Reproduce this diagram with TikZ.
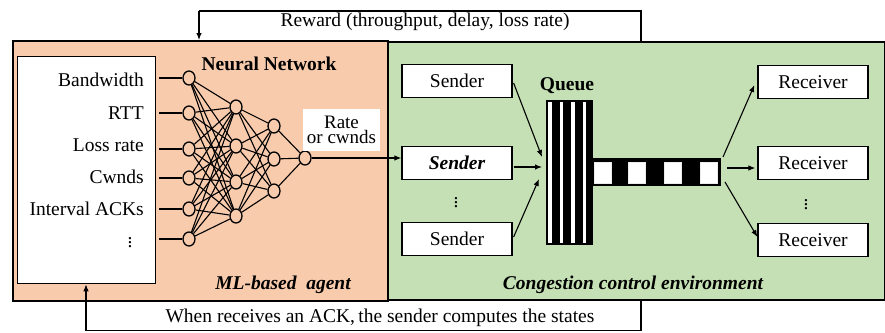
\documentclass[tikz,border=0pt]{standalone}
\usepackage{fontspec}
\setmainfont{Liberation Serif}
\usetikzlibrary{arrows.meta,calc,shapes.geometric}
\definecolor{agentbg}{RGB}{248,203,173}
\definecolor{envbg}{RGB}{197,224,180}
\begin{document}
\begin{tikzpicture}[x=1pt,y=-1pt,
  font=\fontsize{19.5}{22}\selectfont,
  region/.style={draw, line width=1.6pt, inner sep=0, anchor=north west},
  neuron/.style={ellipse, draw, line width=1.3pt, fill=agentbg, minimum width=12pt, minimum height=14pt, inner sep=0},
  conn/.style={line width=1.1pt},
  inline/.style={line width=1.7pt},
  arr/.style={line width=1.1pt, -{Latex[length=7pt,width=5.5pt]}},
  hostbox/.style={draw, fill=white, line width=1.2pt, minimum width=110pt, minimum height=33pt, inner sep=0},
  lbl/.style={inner sep=0, anchor=east},
  bigtitle/.style={font=\fontsize{19.5}{22}\selectfont\bfseries},
  italtitle/.style={font=\fontsize{19.5}{22}\selectfont\bfseries\itshape}
]
\useasboundingbox (0,0) rectangle (885,332);

% regions
\node[region, fill=agentbg, minimum width=375pt, minimum height=260pt] (agent) at (12,40) {};
\node[region, fill=envbg, minimum width=497pt, minimum height=258pt] (env) at (387,41) {};
\node[region, fill=white, line width=1.3pt, minimum width=138pt, minimum height=227pt] (state) at (17,56) {};

% state labels
\node[lbl] (lbw) at (144,80) {Bandwidth};
\node[lbl] (lrtt) at (144,113) {RTT};
\node[lbl] (lloss) at (144,145) {Loss rate};
\node[lbl] (lcw) at (144,177) {Cwnds};
\node[lbl] (lack) at (144,209) {Interval ACKs};
\node[inner sep=0] (ldots) at (130,240) {$\vdots$};

% neurons
\foreach \n/\y in {1/78,2/113,3/149,4/178,5/209,6/239}
  \node[neuron] (i\n) at (189,\y) {};
\foreach \n/\y in {1/107,2/146,3/182,4/216}
  \node[neuron] (h\n) at (236,\y) {};
\foreach \n/\y in {1/126,2/159,3/191}
  \node[neuron] (g\n) at (274,\y) {};
\node[neuron] (o) at (305,158) {};

\foreach \a in {1,...,6}
  \foreach \b in {1,...,4}
    \draw[conn] (i\a) -- (h\b);
\foreach \a in {1,...,4}
  \foreach \b in {1,...,3}
    \draw[conn] (h\a) -- (g\b);
\foreach \a in {1,...,3}
  \draw[conn] (g\a) -- (o);

\foreach \n in {1,...,6}
  \draw[inline] ($(state.east |- i\n)+(3,0)$) -- (i\n);

\node[bigtitle, inner sep=0] (nntitle) at (269,64) {Neural Network};
\node[italtitle, inner sep=0] (agtitle) at (283,285) {ML-based\ \ agent};

% Rate label
\node[fill=white, inner sep=0, minimum width=77pt, minimum height=42pt, align=center,
      font=\fontsize{19}{12.5}\selectfont] (rate) at (341.5,130) {Rate\\or cwnds};

% environment
\node[hostbox] (s1) at (457,81) {Sender};
\node[hostbox] (s2) at (457,163) {\bfseries\itshape Sender};
\node[inner sep=0] (sdots) at (456,200) {$\vdots$};
\node[hostbox] (s3) at (457,239) {Sender};

\node[hostbox] (r1) at (813,82) {Receiver};
\node[hostbox] (r2) at (813,163) {Receiver};
\node[inner sep=0] (rdots) at (806,202) {$\vdots$};
\node[hostbox] (r3) at (813,240) {Receiver};

% queue
\node[fill=black, inner sep=0, minimum width=47pt, minimum height=145pt] (queue) at (569.5,172.5) {};
\foreach \x in {548,559.5,571,582.5}
  \fill[white] (\x,102) rectangle ++(3.6,141);
\node[bigtitle, inner sep=0] (qtitle) at (567,86) {Queue};

% link
\node[fill=black, inner sep=0, minimum width=128pt, minimum height=28pt] (link) at (657,172) {};
\foreach \x in {594.5,628.5,664.5,700.5}
  \draw[white!92!black, fill=white, line width=0.4pt] (\x,162.5) rectangle ++(17,20.5);

\node[italtitle, inner sep=0] (envtitle) at (633,285) {Congestion control environment};

% arrows senders -> queue
\coordinate (q1) at (542,157);
\coordinate (q2) at (542,167);
\coordinate (q3) at (539,179);
\draw[arr] ($(s1.east)+(1,2)$) -- (q1);
\draw[arr] ($(s2.east)+(1,4)$) -- (q2);
\draw[arr] ($(s3.east)+(1,-2)$) -- (q3);

% arrows link -> receivers
\coordinate (l1) at (723,157);
\coordinate (l2) at (727,168);
\coordinate (l3) at (725,182);
\draw[arr] (l1) -- ($(r1.west)+(-3,3)$);
\draw[arr] (l2) -- ($(r2.west)+(-2,5)$);
\draw[arr] (l3) -- ($(r3.west)+(0,-3)$);

% output arrow
\draw[arr] (o.east) -- (o.east -| s2.west);

% reward feedback
\coordinate (rtop) at (641,11);
\coordinate (ltop) at (199,11);
\draw[line width=1.1pt] (rtop |- env.north) -- (rtop) -- (ltop);
\draw[arr] (ltop) -- (ltop |- agent.north);
\node[inner sep=0] (rewardtxt) at (425,22) {Reward (throughput, delay, loss rate)};

% ACK feedback
\coordinate (rbot) at (641,330.5);
\coordinate (lbot) at (86,330.5);
\draw[line width=1.1pt] (rbot |- env.south) -- (rbot) -- (lbot);
\draw[arr] (lbot) -- (lbot |- state.south);
\node[inner sep=0] (acktxt) at (380,318) {When receives an ACK,\,the sender computes the states};
\end{tikzpicture}
\end{document}
